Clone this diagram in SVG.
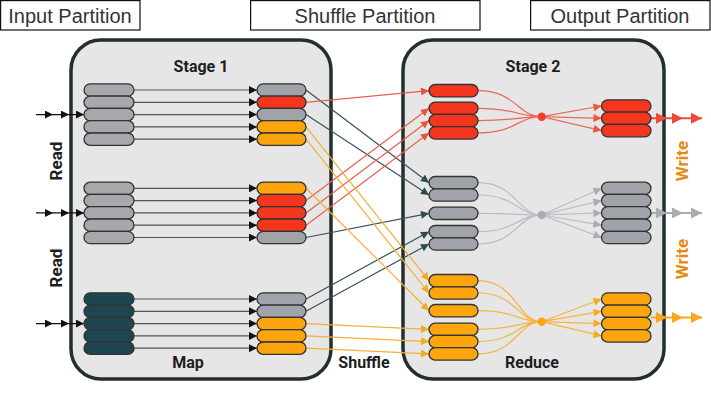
<svg xmlns="http://www.w3.org/2000/svg" width="711" height="402" viewBox="0 0 711 402">
<defs>
<style>
.lbl{font-family:"Liberation Sans",Arial,sans-serif;font-size:20px;fill:#333;text-anchor:middle}
.box{fill:#fff;stroke:#111;stroke-width:1.2}
.panel{fill:#e6e6e6;stroke:#232e31;stroke-width:3.5}
.hd{font-family:Roboto,"Liberation Sans",sans-serif;font-weight:bold;font-size:16px;fill:#1e1e1e;text-anchor:middle}
.rl{font-family:Roboto,"Liberation Sans",sans-serif;font-weight:bold;font-size:17px;fill:#1e1e1e;text-anchor:middle}
.wr{font-family:Roboto,"Liberation Sans",sans-serif;font-weight:bold;font-size:17px;fill:#e58a12;text-anchor:middle}
.p{stroke:#333;stroke-width:1.3}
.g{fill:#a7a8ab}
.gb{fill:#a0a3aa}
.r{fill:#f4361f}
.o{fill:#fca50c}
.t{fill:#1f4650}
.map{stroke:#555;stroke-width:1.2;fill:none;marker-end:url(#ak)}
.rd{stroke:#111;stroke-width:1.3;fill:none;marker-mid:url(#ak);marker-end:url(#ak)}
.sr{stroke:#e8604c;stroke-width:1.2;fill:none;marker-end:url(#ar)}
.ss{stroke:#35535b;stroke-width:1.2;fill:none;marker-end:url(#as)}
.so{stroke:#f2b134;stroke-width:1.2;fill:none;marker-end:url(#ao)}
.fr{stroke:#e96a58;stroke-width:1.2;fill:none}
.fg{stroke:#b9bcc4;stroke-width:1.2;fill:none}
.fo{stroke:#f6b441;stroke-width:1.2;fill:none}
.or{stroke:#ef4a36;stroke-width:2;fill:none;marker-mid:url(#Br);marker-end:url(#Br)}
.og{stroke:#a9acb4;stroke-width:2;fill:none;marker-mid:url(#Bg);marker-end:url(#Bg)}
.oo{stroke:#f8a81c;stroke-width:2;fill:none;marker-mid:url(#Bo);marker-end:url(#Bo)}
</style>
<marker id="ak" viewBox="0 0 10 10" refX="10" refY="5" markerWidth="9" markerHeight="8" markerUnits="userSpaceOnUse" orient="auto"><path d="M0,0L10,5L0,10z" fill="#111"/></marker>
<marker id="ar" viewBox="0 0 10 10" refX="10" refY="5" markerWidth="9" markerHeight="8" markerUnits="userSpaceOnUse" orient="auto"><path d="M0,0L10,5L0,10z" fill="#e8533d"/></marker>
<marker id="as" viewBox="0 0 10 10" refX="10" refY="5" markerWidth="9" markerHeight="8" markerUnits="userSpaceOnUse" orient="auto"><path d="M0,0L10,5L0,10z" fill="#2e4a52"/></marker>
<marker id="ao" viewBox="0 0 10 10" refX="10" refY="5" markerWidth="9" markerHeight="8" markerUnits="userSpaceOnUse" orient="auto"><path d="M0,0L10,5L0,10z" fill="#f4aa22"/></marker>
<marker id="fr" viewBox="0 0 10 10" refX="10" refY="5" markerWidth="9" markerHeight="8" markerUnits="userSpaceOnUse" orient="auto"><path d="M0,0L10,5L0,10z" fill="#ec5641"/></marker>
<marker id="fg" viewBox="0 0 10 10" refX="10" refY="5" markerWidth="9" markerHeight="8" markerUnits="userSpaceOnUse" orient="auto"><path d="M0,0L10,5L0,10z" fill="#a9acb4"/></marker>
<marker id="fo" viewBox="0 0 10 10" refX="10" refY="5" markerWidth="9" markerHeight="8" markerUnits="userSpaceOnUse" orient="auto"><path d="M0,0L10,5L0,10z" fill="#f6ab25"/></marker>
<marker id="Br" viewBox="0 0 10 10" refX="10" refY="5" markerWidth="12" markerHeight="11" markerUnits="userSpaceOnUse" orient="auto"><path d="M0,0L10,5L0,10z" fill="#ef4a36"/></marker>
<marker id="Bg" viewBox="0 0 10 10" refX="10" refY="5" markerWidth="12" markerHeight="11" markerUnits="userSpaceOnUse" orient="auto"><path d="M0,0L10,5L0,10z" fill="#a9acb4"/></marker>
<marker id="Bo" viewBox="0 0 10 10" refX="10" refY="5" markerWidth="12" markerHeight="11" markerUnits="userSpaceOnUse" orient="auto"><path d="M0,0L10,5L0,10z" fill="#f8a81c"/></marker>
</defs>
<rect width="711" height="402" fill="#fff"/>

<g id="label-input"><rect class="box" x="0.6" y="0.6" width="139.4" height="29.4"/><text class="lbl" x="70" y="23">Input Partition</text></g>
<g id="label-shuffle"><rect class="box" x="250.6" y="0.6" width="229.4" height="29.4"/><text class="lbl" x="365" y="23">Shuffle Partition</text></g>
<g id="label-output"><rect class="box" x="530.6" y="0.6" width="179.4" height="29.4"/><text class="lbl" x="620" y="23">Output Partition</text></g>

<g id="stage1"><rect class="panel" x="71" y="40" width="260" height="339" rx="30"/>
<text class="hd" x="201" y="72">Stage 1</text><text class="hd" x="188" y="368">Map</text></g>
<g id="stage2"><rect class="panel" x="403" y="40" width="261" height="339" rx="30"/>
<text class="hd" x="533" y="72">Stage 2</text><text class="hd" x="532" y="368">Reduce</text></g>
<g id="shuffle-label"><text class="hd" x="364" y="368">Shuffle</text></g>
<g id="read-labels"><text class="rl" transform="translate(62,161) rotate(-90)">Read</text><text class="rl" transform="translate(62,268) rotate(-90)">Read</text></g>
<g id="write-labels"><text class="wr" transform="translate(688,161) rotate(-90)">Write</text><text class="wr" transform="translate(688,259) rotate(-90)">Write</text></g>

<g id="connectors">
<path class="rd" d="M36,114.6L53,114.6L69,114.6L84,114.6"/>
<path class="rd" d="M36,212.9L53,212.9L69,212.9L84,212.9"/>
<path class="rd" d="M36,323.6L53,323.6L69,323.6L84,323.6"/>
<path class="map" d="M134,90H257"/><path class="map" d="M134,102.3H257"/><path class="map" d="M134,114.6H257"/><path class="map" d="M134,126.9H257"/><path class="map" d="M134,139.2H257"/>
<path class="map" d="M134,188.3H257"/><path class="map" d="M134,200.6H257"/><path class="map" d="M134,212.9H257"/><path class="map" d="M134,225.2H257"/><path class="map" d="M134,237.5H257"/>
<path class="map" d="M134,299H257"/><path class="map" d="M134,311.3H257"/><path class="map" d="M134,323.6H257"/><path class="map" d="M134,335.9H257"/><path class="map" d="M134,348.2H257"/>
<path class="ss" d="M306,90L429,182.7"/><path class="ss" d="M306,114.6L429,195"/><path class="ss" d="M306,237.5L429,213.3"/><path class="ss" d="M306,299L429,231.7"/><path class="ss" d="M306,311.3L429,244"/>
<path class="sr" d="M306,102.3L429,90.7"/><path class="sr" d="M306,200.6L429,108.3"/><path class="sr" d="M306,212.9L429,120.6"/><path class="sr" d="M306,225.2L429,132.9"/>
<path class="so" d="M306,126.9L429,280.7"/><path class="so" d="M306,139.2L429,293"/><path class="so" d="M306,188.3L429,310.7"/><path class="so" d="M306,323.6L429,329.3"/><path class="so" d="M306,335.9L429,341.6"/><path class="so" d="M306,348.2L429,353.9"/>
<path class="fr" d="M478,90.7C516,90.7 518,116.7 541.7,116.7M478,108.3C516,108.3 518,116.7 541.7,116.7M478,120.6C516,120.6 518,116.7 541.7,116.7M478,132.9C516,132.9 518,116.7 541.7,116.7"/>
<path class="fg" d="M478,182.7C516,182.7 518,215 541.7,215M478,195C516,195 518,215 541.7,215M478,213.3C516,213.3 518,215 541.7,215M478,231.7C516,231.7 518,215 541.7,215M478,244C516,244 518,215 541.7,215"/>
<path class="fo" d="M478,280.7C516,280.7 518,321.7 541.7,321.7M478,293C516,293 518,321.7 541.7,321.7M478,310.7C516,310.7 518,321.7 541.7,321.7M478,329.3C516,329.3 518,321.7 541.7,321.7M478,341.6C516,341.6 518,321.7 541.7,321.7M478,353.9C516,353.9 518,321.7 541.7,321.7"/>
<g class="fr" marker-end="url(#fr)"><path d="M541.7,116.7L601.5,106"/><path d="M541.7,116.7L601.5,118.3"/><path d="M541.7,116.7L601.5,130.6"/></g>
<g class="fg" marker-end="url(#fg)"><path d="M541.7,215L601.5,188.3"/><path d="M541.7,215L601.5,200.6"/><path d="M541.7,215L601.5,212.9"/><path d="M541.7,215L601.5,225.2"/><path d="M541.7,215L601.5,237.5"/></g>
<g class="fo" marker-end="url(#fo)"><path d="M541.7,321.7L601.5,299"/><path d="M541.7,321.7L601.5,311.3"/><path d="M541.7,321.7L601.5,323.6"/><path d="M541.7,321.7L601.5,335.9"/></g>
<path class="or" d="M651,118.3L667,118.3L683,118.3L702,118.3"/>
<path class="og" d="M651,212.9L667,212.9L683,212.9L702,212.9"/>
<path class="oo" d="M651,317.5L667,317.5L683,317.5L702,317.5"/>
</g>

<g id="s1-input-1" class="p g"><rect x="84" y="83.8" width="50" height="12.4" rx="6.2"/><rect x="84" y="96.1" width="50" height="12.4" rx="6.2"/><rect x="84" y="108.4" width="50" height="12.4" rx="6.2"/><rect x="84" y="120.7" width="50" height="12.4" rx="6.2"/><rect x="84" y="133" width="50" height="12.4" rx="6.2"/></g>
<g id="s1-input-2" class="p g"><rect x="84" y="182.1" width="50" height="12.4" rx="6.2"/><rect x="84" y="194.4" width="50" height="12.4" rx="6.2"/><rect x="84" y="206.7" width="50" height="12.4" rx="6.2"/><rect x="84" y="219" width="50" height="12.4" rx="6.2"/><rect x="84" y="231.3" width="50" height="12.4" rx="6.2"/></g>
<g id="s1-input-3" class="p t"><rect x="84" y="292.8" width="50" height="12.4" rx="6.2"/><rect x="84" y="305.1" width="50" height="12.4" rx="6.2"/><rect x="84" y="317.4" width="50" height="12.4" rx="6.2"/><rect x="84" y="329.7" width="50" height="12.4" rx="6.2"/><rect x="84" y="342" width="50" height="12.4" rx="6.2"/></g>

<g id="s1-map-1" class="p"><rect class="gb" x="257" y="83.8" width="49" height="12.4" rx="6.2"/><rect class="r" x="257" y="96.1" width="49" height="12.4" rx="6.2"/><rect class="gb" x="257" y="108.4" width="49" height="12.4" rx="6.2"/><rect class="o" x="257" y="120.7" width="49" height="12.4" rx="6.2"/><rect class="o" x="257" y="133" width="49" height="12.4" rx="6.2"/></g>
<g id="s1-map-2" class="p"><rect class="o" x="257" y="182.1" width="49" height="12.4" rx="6.2"/><rect class="r" x="257" y="194.4" width="49" height="12.4" rx="6.2"/><rect class="r" x="257" y="206.7" width="49" height="12.4" rx="6.2"/><rect class="r" x="257" y="219" width="49" height="12.4" rx="6.2"/><rect class="gb" x="257" y="231.3" width="49" height="12.4" rx="6.2"/></g>
<g id="s1-map-3" class="p"><rect class="gb" x="257" y="292.8" width="49" height="12.4" rx="6.2"/><rect class="gb" x="257" y="305.1" width="49" height="12.4" rx="6.2"/><rect class="o" x="257" y="317.4" width="49" height="12.4" rx="6.2"/><rect class="o" x="257" y="329.7" width="49" height="12.4" rx="6.2"/><rect class="o" x="257" y="342" width="49" height="12.4" rx="6.2"/></g>

<g id="s2-in-red" class="p r"><rect x="429" y="84.5" width="49" height="12.4" rx="6.2"/><rect x="429" y="102.1" width="49" height="12.4" rx="6.2"/><rect x="429" y="114.4" width="49" height="12.4" rx="6.2"/><rect x="429" y="126.7" width="49" height="12.4" rx="6.2"/></g>
<g id="s2-in-gray" class="p gb"><rect x="429" y="176.5" width="49" height="12.4" rx="6.2"/><rect x="429" y="188.8" width="49" height="12.4" rx="6.2"/><rect x="429" y="207.1" width="49" height="12.4" rx="6.2"/><rect x="429" y="225.5" width="49" height="12.4" rx="6.2"/><rect x="429" y="237.8" width="49" height="12.4" rx="6.2"/></g>
<g id="s2-in-orange" class="p o"><rect x="429" y="274.5" width="49" height="12.4" rx="6.2"/><rect x="429" y="286.8" width="49" height="12.4" rx="6.2"/><rect x="429" y="304.5" width="49" height="12.4" rx="6.2"/><rect x="429" y="323.1" width="49" height="12.4" rx="6.2"/><rect x="429" y="335.4" width="49" height="12.4" rx="6.2"/><rect x="429" y="347.7" width="49" height="12.4" rx="6.2"/></g>

<g id="reduce-red"><circle cx="541.7" cy="116.7" r="4.2" fill="#ef3f2c"/></g>
<g id="reduce-gray"><circle cx="541.7" cy="215" r="4.2" fill="#a9acb4"/></g>
<g id="reduce-orange"><circle cx="541.7" cy="321.7" r="4.2" fill="#fca50c"/></g>

<g id="s2-out-red" class="p r"><rect x="601.5" y="99.8" width="49.5" height="12.4" rx="6.2"/><rect x="601.5" y="112.1" width="49.5" height="12.4" rx="6.2"/><rect x="601.5" y="124.4" width="49.5" height="12.4" rx="6.2"/></g>
<g id="s2-out-gray" class="p gb"><rect x="601.5" y="182.1" width="49.5" height="12.4" rx="6.2"/><rect x="601.5" y="194.4" width="49.5" height="12.4" rx="6.2"/><rect x="601.5" y="206.7" width="49.5" height="12.4" rx="6.2"/><rect x="601.5" y="219" width="49.5" height="12.4" rx="6.2"/><rect x="601.5" y="231.3" width="49.5" height="12.4" rx="6.2"/></g>
<g id="s2-out-orange" class="p o"><rect x="601.5" y="292.8" width="49.5" height="12.4" rx="6.2"/><rect x="601.5" y="305.1" width="49.5" height="12.4" rx="6.2"/><rect x="601.5" y="317.4" width="49.5" height="12.4" rx="6.2"/><rect x="601.5" y="329.7" width="49.5" height="12.4" rx="6.2"/></g>
</svg>
